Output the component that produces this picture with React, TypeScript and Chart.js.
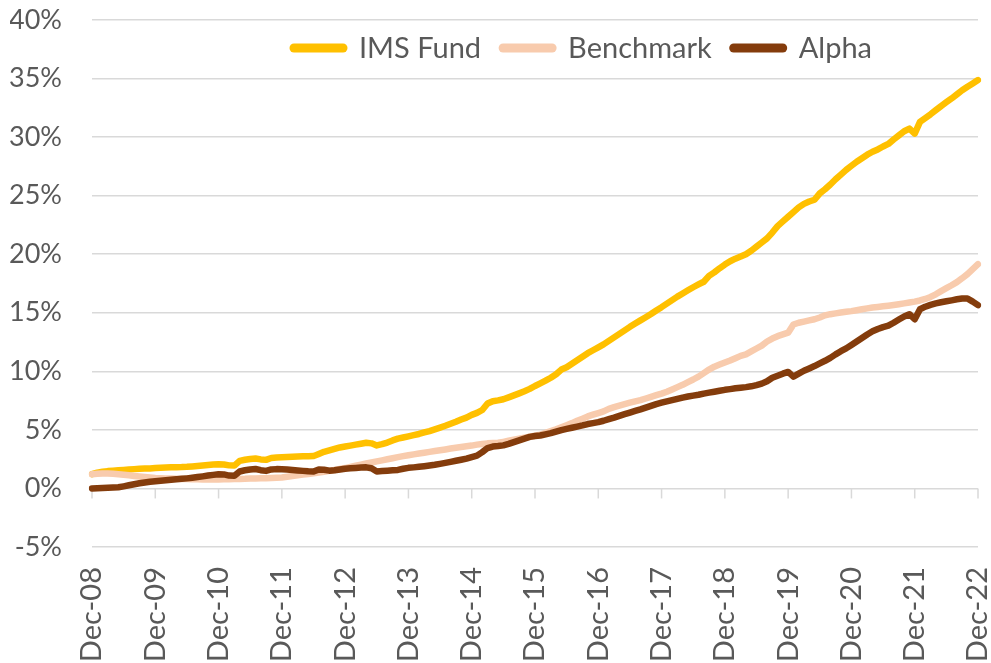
import React, { useEffect, useRef } from "react";
import { Chart, registerables } from "chart.js";

Chart.register(...registerables);

const FONT = "Lato";
const TEXT_COLOR = "#595959";
const GRID_COLOR = "#d9d9d9";

const monthNames = ["Jan", "Feb", "Mar", "Apr", "May", "Jun", "Jul", "Aug", "Sep", "Oct", "Nov", "Dec"];
const yearLabels = ["09", "10", "11", "12", "13", "14", "15", "16", "17", "18", "19", "20", "21", "22"];
const startLabel = "Dec-08";

const categories: string[] = [startLabel];
yearLabels.forEach((yy) => monthNames.forEach((m) => categories.push(`${m}-${yy}`)));

const yTicks = [-5, 0, 5, 10, 15, 20, 25, 30, 35, 40];

const imsFund = [
  1.22,
  1.35, 1.42, 1.48, 1.52, 1.55, 1.58, 1.62, 1.65, 1.68, 1.70, 1.71, 1.74,
  1.76, 1.78, 1.80, 1.82, 1.83, 1.85, 1.88, 1.92, 1.96, 2.00, 2.04, 2.07,
  2.05, 1.97, 1.95, 2.35, 2.45, 2.52, 2.56, 2.48, 2.44, 2.60, 2.64, 2.66,
  2.68, 2.70, 2.72, 2.74, 2.74, 2.76, 2.95, 3.13, 3.25, 3.38, 3.50, 3.58,
  3.66, 3.74, 3.82, 3.90, 3.85, 3.67, 3.78, 3.92, 4.10, 4.25, 4.35, 4.45,
  4.55, 4.65, 4.78, 4.90, 5.05, 5.20, 5.35, 5.52, 5.69, 5.88, 6.05, 6.28,
  6.45, 6.70, 7.25, 7.45, 7.52, 7.62, 7.78, 7.95, 8.12, 8.30, 8.50, 8.75,
  8.97, 9.20, 9.45, 9.75, 10.15, 10.35, 10.65, 10.95, 11.25, 11.55, 11.80, 12.05,
  12.30, 12.60, 12.90, 13.20, 13.50, 13.80, 14.08, 14.35, 14.62, 14.90, 15.20, 15.48,
  15.78, 16.08, 16.38, 16.65, 16.92, 17.18, 17.42, 17.65, 18.15, 18.45, 18.80, 19.12,
  19.40, 19.62, 19.80, 20.00, 20.30, 20.65, 21.00, 21.35, 21.85, 22.40, 22.80, 23.20,
  23.60, 24.00, 24.30, 24.50, 24.65, 25.20, 25.55, 25.95, 26.40, 26.80, 27.20, 27.55,
  27.90, 28.20, 28.50, 28.75, 28.95, 29.20, 29.42, 29.80, 30.15, 30.50, 30.72, 30.30,
  31.30, 31.62, 31.95, 32.30, 32.65, 32.98, 33.30, 33.65, 34.00, 34.30, 34.58, 34.87,
];

const benchmark = [
  1.22,
  1.26, 1.28, 1.28, 1.26, 1.22, 1.17, 1.12, 1.07, 1.02, 0.98, 0.94, 0.90,
  0.88, 0.86, 0.84, 0.82, 0.81, 0.80, 0.79, 0.78, 0.77, 0.77, 0.77, 0.77,
  0.78, 0.79, 0.80, 0.81, 0.82, 0.84, 0.85, 0.87, 0.88, 0.90, 0.92, 0.94,
  1.00, 1.06, 1.12, 1.18, 1.24, 1.30, 1.36, 1.42, 1.50, 1.58, 1.66, 1.74,
  1.84, 1.94, 2.04, 2.13, 2.22, 2.31, 2.40, 2.49, 2.58, 2.67, 2.76, 2.84,
  2.91, 2.98, 3.05, 3.12, 3.19, 3.26, 3.33, 3.41, 3.48, 3.54, 3.60, 3.66,
  3.74, 3.80, 3.85, 3.88, 3.90, 3.98, 4.07, 4.16, 4.25, 4.34, 4.42, 4.50,
  4.60, 4.75, 4.90, 5.05, 5.22, 5.40, 5.58, 5.78, 5.96, 6.15, 6.30, 6.44,
  6.58, 6.80, 6.95, 7.08, 7.20, 7.32, 7.44, 7.54, 7.68, 7.82, 7.96, 8.10,
  8.26, 8.45, 8.65, 8.85, 9.08, 9.30, 9.55, 9.85, 10.15, 10.40, 10.58, 10.75,
  10.92, 11.12, 11.32, 11.45, 11.70, 11.95, 12.20, 12.55, 12.80, 13.00, 13.15, 13.30,
  14.00, 14.15, 14.25, 14.35, 14.45, 14.60, 14.78, 14.88, 14.95, 15.02, 15.08, 15.14,
  15.22, 15.30, 15.38, 15.45, 15.50, 15.55, 15.60, 15.66, 15.73, 15.80, 15.88, 15.95,
  16.05, 16.18, 16.35, 16.58, 16.85, 17.10, 17.35, 17.62, 17.95, 18.30, 18.72, 19.15,
];

const alpha = [
  0.00,
  0.02, 0.04, 0.06, 0.08, 0.10, 0.18, 0.27, 0.36, 0.44, 0.51, 0.57, 0.62,
  0.66, 0.70, 0.74, 0.78, 0.82, 0.86, 0.91, 0.97, 1.03, 1.10, 1.16, 1.22,
  1.20, 1.10, 1.08, 1.45, 1.55, 1.62, 1.66, 1.56, 1.50, 1.62, 1.65, 1.64,
  1.62, 1.58, 1.54, 1.50, 1.46, 1.44, 1.62, 1.60, 1.52, 1.55, 1.62, 1.68,
  1.72, 1.75, 1.78, 1.80, 1.72, 1.45, 1.48, 1.52, 1.55, 1.58, 1.68, 1.76,
  1.80, 1.85, 1.90, 1.96, 2.02, 2.10, 2.18, 2.27, 2.36, 2.45, 2.55, 2.68,
  2.80, 3.10, 3.45, 3.58, 3.62, 3.68, 3.80, 3.95, 4.10, 4.25, 4.40, 4.48,
  4.52, 4.62, 4.72, 4.85, 4.98, 5.08, 5.18, 5.28, 5.38, 5.50, 5.58, 5.66,
  5.78, 5.92, 6.05, 6.20, 6.34, 6.48, 6.62, 6.75, 6.90, 7.05, 7.20, 7.32,
  7.43, 7.54, 7.65, 7.76, 7.85, 7.93, 8.00, 8.10, 8.18, 8.26, 8.34, 8.42,
  8.48, 8.55, 8.60, 8.65, 8.72, 8.82, 8.95, 9.15, 9.45, 9.62, 9.80, 9.95,
  9.55, 9.80, 10.05, 10.25, 10.45, 10.68, 10.90, 11.15, 11.45, 11.72, 11.96, 12.25,
  12.55, 12.85, 13.15, 13.42, 13.62, 13.78, 13.90, 14.15, 14.42, 14.68, 14.88, 14.45,
  15.30, 15.52, 15.68, 15.80, 15.90, 15.98, 16.06, 16.15, 16.22, 16.22, 15.95, 15.65,
];

const seriesNames = ["IMS Fund", "Benchmark", "Alpha"];
const seriesColors = ["#FFC000", "#F8CBAD", "#843C0C"];

const inlineLegend = {
  id: "inlineLegend",
  afterDatasetsDraw(chart: any) {
    const { ctx, chartArea } = chart;
    ctx.save();
    ctx.font = `29px ${FONT}`;
    ctx.textBaseline = "middle";
    const lineLen = 57;
    const gapText = 12;
    const gapItem = 18;
    let x = chartArea.left + 198;
    const y = chartArea.top + 28;
    chart.data.datasets.forEach((ds: any) => {
      ctx.strokeStyle = ds.borderColor;
      ctx.lineWidth = 9;
      ctx.lineCap = "round";
      ctx.beginPath();
      ctx.moveTo(x + 4, y);
      ctx.lineTo(x + lineLen - 4, y);
      ctx.stroke();
      x += lineLen + gapText;
      ctx.fillStyle = TEXT_COLOR;
      ctx.fillText(ds.label, x, y + 1);
      x += ctx.measureText(ds.label).width + gapItem;
    });
    ctx.restore();
  },
};

const zeroTicks = {
  id: "zeroTicks",
  beforeDatasetsDraw(chart: any) {
    const { ctx } = chart;
    const xs = chart.scales.x;
    const ys = chart.scales.y;
    const y0 = ys.getPixelForValue(0);
    ctx.save();
    ctx.strokeStyle = GRID_COLOR;
    ctx.lineWidth = 1.5;
    categories.forEach((c, i) => {
      if (!c.startsWith("Dec")) return;
      const px = xs.getPixelForValue(i);
      ctx.beginPath();
      ctx.moveTo(px, y0);
      ctx.lineTo(px, y0 + 10);
      ctx.stroke();
    });
    ctx.restore();
  },
};

export default function App() {
  const canvasRef = useRef<HTMLCanvasElement | null>(null);

  useEffect(() => {
    if (!canvasRef.current) return;
    const values = [imsFund, benchmark, alpha];
    const chart = new Chart(canvasRef.current, {
      type: "line",
      data: {
        labels: categories,
        datasets: values.map((v, i) => ({
          label: seriesNames[i],
          data: v,
          borderColor: seriesColors[i],
          backgroundColor: seriesColors[i],
          borderWidth: 6.5,
          pointRadius: 0,
          pointHoverRadius: 0,
          tension: 0,
          borderCapStyle: "round" as const,
          borderJoinStyle: "round" as const,
          order: 3 - i,
        })),
      },
      options: {
        animation: false,
        responsive: false,
        maintainAspectRatio: false,
        layout: { padding: { left: 10, right: 13, top: 20, bottom: 0 } },
        plugins: {
          legend: { display: false },
          tooltip: { enabled: false },
        },
        scales: {
          x: {
            type: "category",
            grid: { display: false, drawTicks: false },
            border: { display: false },
            ticks: {
              autoSkip: false,
              minRotation: 90,
              maxRotation: 90,
              padding: 20,
              color: TEXT_COLOR,
              font: { family: FONT, size: 29 },
              callback: function (this: any, value: any) {
                const lbl = this.getLabelForValue(value);
                return lbl.startsWith("Dec") ? lbl : null;
              },
            },
            afterFit: (scale: any) => {
              scale.height = 116;
              scale.paddingLeft = 0;
              scale.paddingRight = 0;
            },
          },
          y: {
            min: yTicks[0],
            max: yTicks[yTicks.length - 1],
            afterBuildTicks: (scale: any) => {
              scale.ticks = yTicks.map((v) => ({ value: v }));
            },
            grid: { color: GRID_COLOR, lineWidth: 1.5, drawTicks: false },
            border: { display: false },
            ticks: {
              padding: 30,
              color: TEXT_COLOR,
              font: { family: FONT, size: 27 },
              callback: (v: any) => `${v}%`,
            },
            afterFit: (scale: any) => {
              scale.width = 82;
              scale.paddingTop = 0;
              scale.paddingBottom = 0;
            },
          },
        },
      },
      plugins: [zeroTicks, inlineLegend],
    });
    return () => chart.destroy();
  }, []);

  return (
    <div style={{ position: "fixed", left: 0, top: 0, width: 991, height: 663, background: "#fff" }}>
      <canvas ref={canvasRef} width={991} height={663} style={{ width: 991, height: 663 }} />
    </div>
  );
}
